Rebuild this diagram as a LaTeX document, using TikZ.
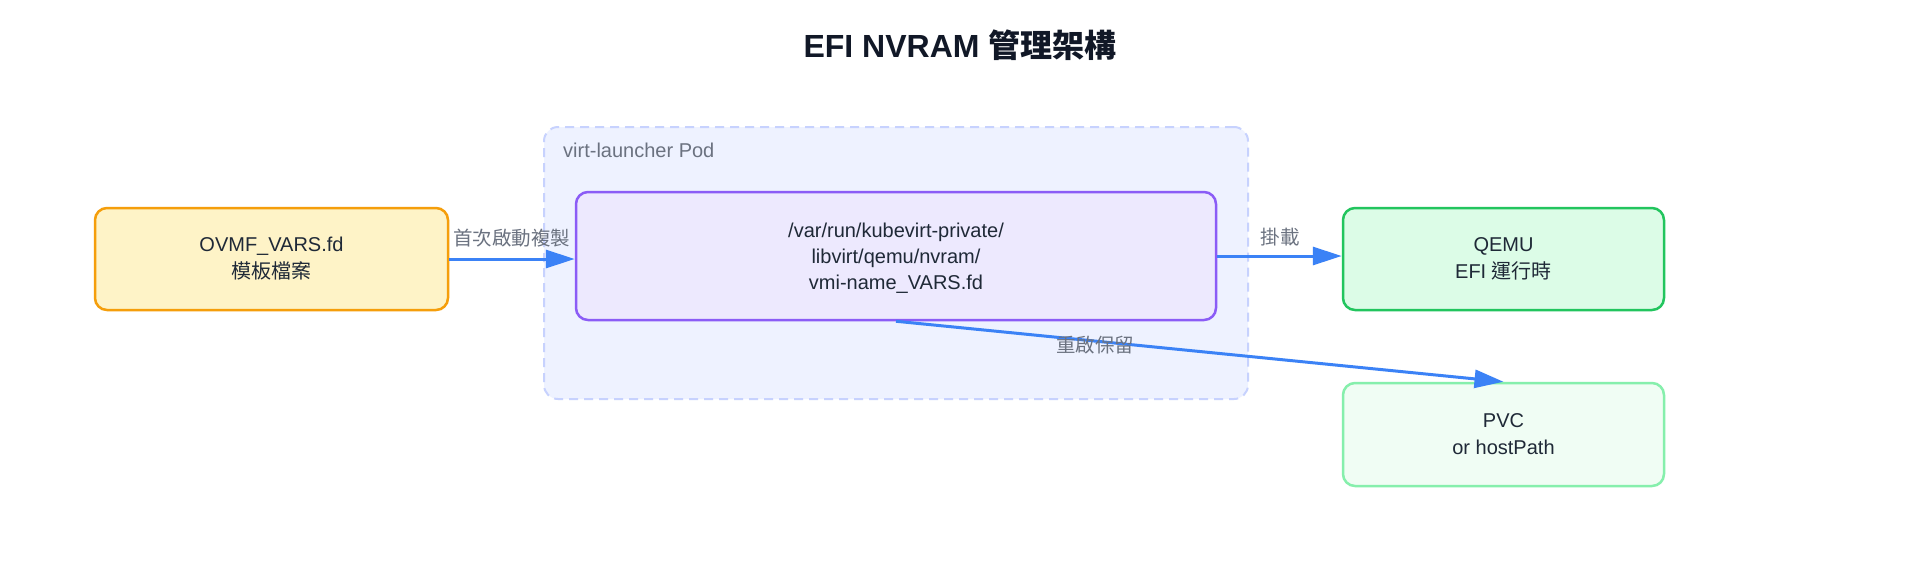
\documentclass[tikz,border=0pt]{standalone}
\usepackage{fontspec}
\setmainfont{Liberation Sans}
\newfontfamily\cjk{Noto Sans CJK TC}
\usetikzlibrary{arrows.meta}
\definecolor{txt}{HTML}{1F2937}
\definecolor{ttl}{HTML}{111827}
\definecolor{lbl}{HTML}{6B7280}
\definecolor{arr}{HTML}{3B82F6}
\definecolor{podfill}{HTML}{EEF2FF}
\definecolor{podline}{HTML}{C7D2FE}
\definecolor{yfill}{HTML}{FEF3C7}
\definecolor{yline}{HTML}{F59E0B}
\definecolor{pfill}{HTML}{EDE9FE}
\definecolor{pline}{HTML}{8B5CF6}
\definecolor{gfill}{HTML}{DCFCE7}
\definecolor{gline}{HTML}{22C55E}
\definecolor{lgfill}{HTML}{F0FDF4}
\definecolor{lgline}{HTML}{86EFAC}
\tikzset{
  box/.style={draw, rounded corners=12pt, line width=2.5pt, align=center,
    text=txt, inner sep=0pt, font=\fontsize{20}{27}\selectfont},
  flow/.style={draw=arr, line width=3pt, -{Triangle[length=29pt,width=18pt]}},
  elabel/.style={text=lbl, font=\fontsize{19.5}{23}\selectfont\cjk, inner sep=0pt}
}
\begin{document}
\begin{tikzpicture}[x=1pt,y=-1pt]
\useasboundingbox[fill=white] (0,0) rectangle (1920,576);
\node[font=\fontsize{32}{38}\selectfont\bfseries, text=ttl] (title) at (960,45) {EFI NVRAM {\cjk 管理架構}};
\node[draw=podline, fill=podfill, dash pattern=on 9pt off 6pt, line width=2pt,
  rounded corners=14pt, minimum width=704pt, minimum height=272pt] (pod) at (896,263) {};
\node[text=lbl, font=\fontsize{20}{24}\selectfont, anchor=west, inner sep=0pt] (podlbl) at (563,150) {virt-launcher Pod};
\node[box, draw=yline, fill=yfill, minimum width=353pt, minimum height=102pt] (ovmf) at (271.5,259) {OVMF\_VARS.fd\\{\cjk 模板檔案}};
\node[box, draw=pline, fill=pfill, minimum width=640pt, minimum height=128pt] (nvram) at (896,256) {};
\node[align=center, text=txt, inner sep=0pt, font=\fontsize{20}{26}\selectfont] (nvramtext) at (896,258.5) {/var/run/kubevirt-private/\\libvirt/qemu/nvram/\\vmi-name\_VARS.fd};
\node[box, draw=gline, fill=gfill, minimum width=321pt, minimum height=102pt] (qemu) at (1503.5,259) {QEMU\\EFI {\cjk 運行時}};
\node[box, draw=lgline, fill=lgfill, minimum width=321pt, minimum height=103pt] (pvc) at (1503.5,434.5) {PVC\\or hostPath};
\draw[flow] (ovmf.east) -- (ovmf.east -| nvram.west);
\draw[flow] (nvram.east) -- (nvram.east -| qemu.west);
\draw[flow] (nvram.south) -- (pvc.north);
\node[elabel] (l1) at (511.5,238.5) {首次啟動複製};
\node[elabel] (l2) at (1280,237) {掛載};
\node[elabel] (l3) at (1095,345) {重啟保留};
\end{tikzpicture}
\end{document}
